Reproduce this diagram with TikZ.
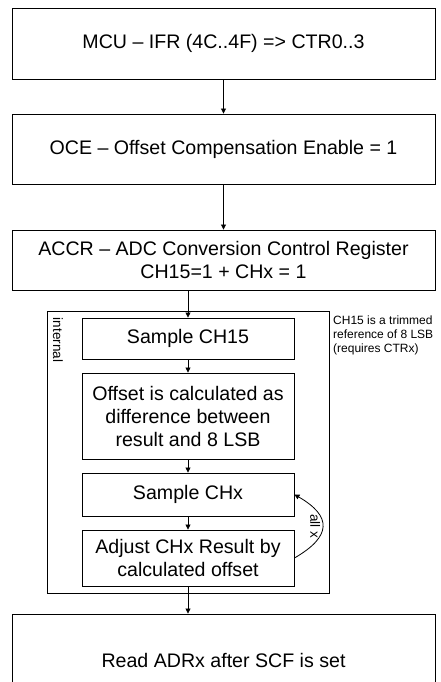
\documentclass[tikz,border=0pt]{standalone}
\usepackage{fontspec}
\setmainfont{Liberation Sans}
\usetikzlibrary{arrows.meta}
\begin{document}
\begin{tikzpicture}[x=1pt,y=-1pt,
  box/.style={draw=black,line width=0.9pt,fill=white,inner sep=0pt,align=center,
    font=\fontsize{19.6}{23}\selectfont},
  bigbox/.style={box,minimum width=423pt},
  smallbox/.style={box,minimum width=212pt},
  frame/.style={draw=black,line width=0.9pt,inner sep=0pt,minimum width=282pt,minimum height=282pt},
  conn/.style={line width=0.8pt,-{Triangle[length=5pt,width=5pt]}},
  small/.style={font=\fontsize{13.5}{15}\selectfont,inner sep=0pt},
  notefont/.style={font=\fontsize{12}{14}\selectfont,inner sep=0pt,align=left}]
\useasboundingbox (0,0) rectangle (441,682);
\fill[white] (0,0) rectangle (441,682);
\node[frame] (fr) at (188,452) {};
\node[bigbox,minimum height=71pt] (b1) at (223.5,43.5) {MCU – IFR (4C..4F) => CTR0..3};
\node[bigbox,minimum height=70pt] (b2) at (223.5,149) {OCE – Offset Compensation Enable = 1};
\node[bigbox,minimum height=60pt] (b3) at (223.5,260) {ACCR – ADC Conversion Control Register\\CH15=1 + CHx = 1};
\node[smallbox,minimum height=41pt] (s15) at (188,338.5) {Sample CH15};
\node[smallbox,minimum height=86pt] (off) at (188,416) {Offset is calculated as\\difference between\\result and 8 LSB};
\node[smallbox,minimum height=43pt] (chx) at (188,494.5) {Sample CHx};
\node[smallbox,minimum height=56pt] (adj) at (188,558) {Adjust CHx Result by\\calculated offset};
\node[bigbox,minimum height=92pt] (b4) at (223.5,660) {Read ADRx after SCF is set};
\node[small,rotate=-90] (int) at (58,340) {internal};
\node[notefont,anchor=north west] (note) at (333,315.5) {CH15 is a trimmed\\reference of 8 LSB\\(requires CTRx)};
\draw[conn] (b1) -- (b2);
\draw[conn] (b2) -- (b3);
\draw[conn] (b3.south -| s15.north) -- (s15.north);
\draw[conn] (s15) -- (off);
\draw[conn] (off) -- (chx);
\draw[conn] (chx) -- (adj);
\draw[conn] (adj.south) -- (adj.south |- b4.north);
\draw[conn] (adj.east) to[bend right=60,looseness=1.75]
  node[small,rotate=-90,anchor=north,pos=0.5,yshift=-0pt,xshift=0pt,inner sep=2pt] (allx) {all x} (chx.east);
\end{tikzpicture}
\end{document}
